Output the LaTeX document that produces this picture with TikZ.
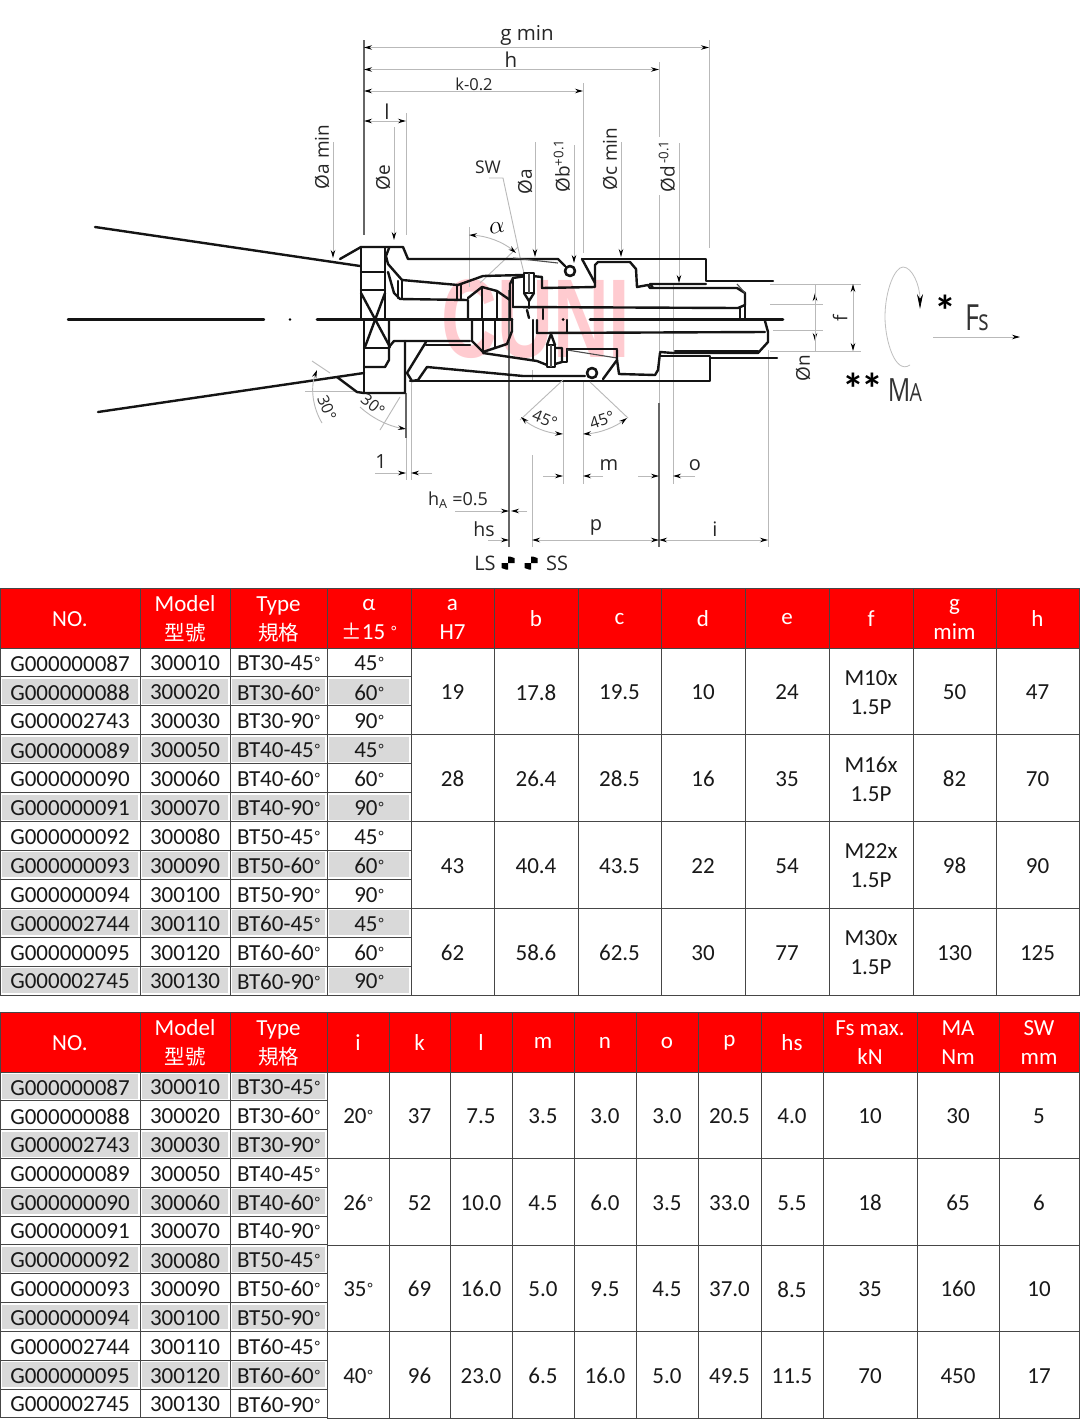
\documentclass[tikz,border=0pt]{standalone}
\usepackage{fontspec}
\setmainfont{Carlito}
\newfontfamily\cjk{Noto Sans CJK TC}
\newfontfamily\dimfont{Open Sans}
\newfontfamily\brandfont{Liberation Sans}
\usetikzlibrary{arrows.meta}
\definecolor{headred}{RGB}{255,0,0}
\definecolor{cellgrey}{RGB}{217,217,217}
\definecolor{cellline}{RGB}{70,70,70}
\definecolor{dimgrey}{RGB}{185,185,185}
\definecolor{brandpink}{RGB}{255,203,208}
\tikzset{
    part/.style={line width=2.4pt,line join=round,line cap=round,black!92},
    thinpart/.style={line width=1.1pt,black!70},
    dimtip/.tip={Stealth[length=8pt,width=4.5pt,black]},
    dimline/.style={line width=0.9pt,dimgrey},
    extdark/.style={line width=1.3pt,black!60},
    dimlabel/.style={font=\dimfont\fontsize{19}{20}\selectfont,inner sep=0pt,black!85},
    celltext/.style={font=\fontsize{23}{29}\selectfont,align=center,inner sep=0pt,black!90},
    headtext/.style={font=\fontsize{23}{29}\selectfont,align=center,inner sep=0pt,white},
    cellbox/.style={draw=cellline,line width=1pt}
}
\newcommand{\dg}{\kern1pt\raisebox{3pt}{\fontsize{15}{15}\selectfont°}}
\newcommand{\tabcell}[7]{
    \draw[cellbox,fill=white] (#2,#3) rectangle (#4,#5);
    \fill[#6] ({#2+2},{#3+2}) rectangle ({#4-2},{#5-2});
    \node[celltext] (#1) at ({(#2+#4)/2},{(#3+#5)/2+1}) {#7};
}
\newcommand{\headcell}[6]{
    \draw[cellbox,fill=headred] (#2,#3) rectangle (#4,#5);
    \node[headtext] (#1) at ({(#2+#4)/2},{(#3+#5)/2+1}) {#6};
}
\begin{document}
\begin{tikzpicture}[x=1pt,y=-1pt]
    \useasboundingbox (0,0) rectangle (1080,1419);
    \fill[white] (0,0) rectangle (1080,1419);

    % watermark
    \node[inner sep=0pt,text=brandpink,xscale=0.69,font=\brandfont\bfseries\fontsize{112}{112}\selectfont] (brand) at (536,319) {CUNI};

    % extension lines
    \draw[extdark] (364,40) -- (364,235);
    \draw[dimline] (709,40) -- (709,248);
    \draw[dimline] (659,62) -- (659,137);
    \draw[dimline] (659,195) -- (659,403);
    \draw[extdark] (659,403) -- (659,547);
    \draw[dimline] (583,83) -- (583,253);
    \draw[dimline] (406,113) -- (406,235);
    \draw[dimline] (469,227) -- (469,287);
    \draw[extdark] (509,290) -- (509,547);
    \draw[dimline] (532,370) -- (532,380);
    \draw[dimline] (532,455) -- (532,547);
    \draw[dimline] (563,380) -- (563,484);
    \draw[dimline] (583,380) -- (583,484);
    \draw[dimline] (673,283) -- (673,484);
    \draw[dimline] (768,350) -- (768,547);
    \draw[extdark] (406,393) -- (406,438);
    \draw[dimline] (406,438) -- (406,480);
    \draw[dimline] (411,380) -- (411,480);
    \draw[dimline] (770,284) -- (861,284);
    \draw[dimline] (770,351) -- (861,351);
    \draw[dimline] (770,304) -- (823,304);
    \draw[dimline] (773,330) -- (823,330);
    \draw[dimline] (305,391) -- (357,391);

    % top dimensions
    \draw[dimline,dimtip-dimtip] (364,47.5) -- (709,47.5);
    \draw[dimline,dimtip-dimtip] (364,69.5) -- (659,69.5);
    \draw[dimline,dimtip-dimtip] (364,91) -- (583,91);
    \draw[dimline,dimtip-dimtip] (364,121) -- (406,121);
    \foreach \xpos/\ya/\yb in {333/142/258,394/127/240,535/142/257,574/145/263,621/142/257,679/143/283}{
        \draw[dimline,-dimtip] (\xpos,\ya) -- (\xpos,\yb);
    }
    \node[dimlabel,font=\dimfont\fontsize{20.5}{20}\selectfont] (gmin) at (527,35) {g min};
    \node[dimlabel,font=\dimfont\fontsize{20.5}{20}\selectfont] (hlab) at (511,60) {h};
    \node[dimlabel,font=\dimfont\fontsize{16.5}{20}\selectfont] (klab) at (474,84) {k-0.2};
    \node[dimlabel,font=\dimfont\fontsize{20.5}{20}\selectfont] (llab) at (387,112) {l};
    \node[dimlabel,rotate=90] (oamin) at (322,157) {Øa min};
    \node[dimlabel,rotate=90] (oe) at (383,178) {Øe};
    \node[dimlabel,rotate=90] (oa) at (525,182) {Øa};
    \node[dimlabel,rotate=90] (ob) at (562,166) {Øb\textsuperscript{+0.1}};
    \node[dimlabel,rotate=90] (ocmin) at (610,159) {Øc min};
    \node[dimlabel,rotate=90] (od) at (667,166) {Ød\textsuperscript{\,-0.1}};
    \node[dimlabel,font=\dimfont\fontsize{17.5}{20}\selectfont] (sw) at (488,167) {SW};
    \node[inner sep=0pt,rotate=10,font=\fontsize{30}{30}\selectfont] (alphalab) at (497,228) {$\alpha$};
    \draw[dimline] (489,178) -- (503,178) -- (520,257) -- (525,277);
    \draw[dimline] (518,247) -- (480,283);
    \draw[dimline,dimtip-dimtip] (469,235) .. controls (487,236) and (503,242) .. (516,253);

    % tool body, upper half
    \draw[part] (95,227) -- (360,266);
    \draw[part] (340,259) -- (361,247) -- (403,247) -- (408,259) -- (558,259) -- (565,266);
    \draw[thinpart] (513,258) -- (558,263);
    \draw[part] (361,247) -- (361,319.5);
    \draw[part] (385,248) -- (385,319.5);
    \draw[part] (361,272) -- (385,272);
    \draw[part] (361,290) -- (385,290);
    \draw[part] (361,293) -- (390,347);
    \draw[part] (385,293) -- (365,347);
    \draw[part] (389,248) -- (386,256) -- (388,264) -- (402,280) -- (458,285);
    \draw[part] (388,272) -- (394,293) -- (400,299) -- (468,300) -- (468,319);
    \draw[part] (398,281) -- (398,298);
    \draw[part] (402,281) -- (402,298);
    \draw[part] (458,285) -- (483,276) -- (523,275);
    \draw[part] (457,285) -- (457,299);
    \draw[part] (461,284) -- (461,299);
    \draw[part] (468,298) -- (482,287) -- (497,291) -- (510,300);
    \draw[part] (482,287) -- (482,319);
    \draw[part] (497,291) -- (497,319);
    \draw[part] (526,276) -- (513,278) -- (510,284) -- (510,319);
    \draw[part] (513,278) -- (513,307);
    \draw[part] (532,276) -- (542,277) -- (542,288) -- (595,287) -- (595,265) -- (598,262) -- (630,262) -- (636,269) -- (637,287) -- (648,285) -- (650,288) -- (737,288) -- (745,293) -- (745,305) -- (738,308) -- (513,307);
    \draw[part] (582,259) -- (706,259) -- (706,281) -- (773,281);
    \draw[part] (582,259) -- (595,283);
    \draw[part] (706,284) -- (650,284) -- (653,288);
    \draw[thinpart] (737,284) -- (745,293);
    \draw[part] (740,308) -- (740,319.5);
    \draw[part] (745,305) -- (745,319.5);
    % small bolt, upper
    \draw[part,fill=white] (524,273) rectangle (534,293);
    \draw[thinpart] (529,273) -- (529,293);
    \draw[part] (524,293) -- (529,301) -- (534,293);
    \draw[part] (529,301) -- (529,308);
    % o-rings
    \draw[part,line width=2.6pt,fill=white] (570,271) circle (5);
    \draw[part,line width=2.6pt,fill=white] (592,373) circle (5);

    % tool body, centre
    \draw[part] (68,319.5) -- (264,319.5);
    \fill (290,319.5) circle (1.4);
    \draw[part,line width=2.6pt] (317,319.5) -- (512,319.5);
    \draw[part,line width=2.6pt] (590,319.5) -- (783,319.5);
    \draw[part] (527,310) -- (529,318);
    \draw[part] (543,309) -- (543,319);
    \fill (563,319.5) circle (1.5);
    \draw[part] (567,320) -- (567,332);
    \draw[part] (533,320) -- (533,360);
    \draw[part] (537,320) -- (537,333) -- (765,332);
    \draw[part] (765,321) -- (768,332) -- (768,342) -- (758,353) -- (673,353) -- (660,352);

    % tool body, lower half
    \draw[part] (98,412) -- (364,373);
    \draw[part] (337,377) -- (357,392) -- (364,393) -- (405,393) -- (405,341);
    \draw[part] (364,319.5) -- (364,393);
    \draw[part] (389,319.5) -- (389,360) -- (385,367) -- (364,367);
    \draw[part] (364,348) -- (389,348);
    \draw[part] (389,347) -- (394,341) -- (470,341);
    \draw[part] (426,345) -- (470,345);
    \draw[part] (426,342) -- (407,373) -- (412,381) -- (418,380) -- (427,367) -- (523,376) -- (585,376);
    \draw[part] (410,381) -- (710,381) -- (710,356) -- (660,356);
    \draw[part] (472,320) -- (472,341) -- (483,352) -- (507,344) -- (512,331) -- (512,319);
    \draw[part] (483,320) -- (483,352);
    \draw[part] (495,320) -- (495,347);
    \draw[part] (483,353) -- (537,361) -- (547,365);
    \draw[part] (555,348) -- (562,348) -- (562,362) -- (555,364);
    \draw[part] (567,349) -- (617,349);
    \draw[part] (562,362) -- (567,362) -- (567,349);
    \draw[thinpart] (567,350) -- (617,358);
    \draw[part] (603,379) -- (617,360) -- (617,350);
    \draw[part] (617,360) -- (619,374) -- (655,375) -- (658,370) -- (660,353);
    \draw[part] (675,351) -- (758,351);
    \draw[part] (710,358) -- (777,358);
    % small bolt, lower
    \draw[part,fill=white] (547,345) rectangle (555,367);
    \draw[thinpart] (551,345) -- (551,367);
    \draw[part] (547,345) -- (551,334) -- (555,345);

    % thin leaders under the body
    \draw[dimline] (563,380) -- (520,420);
    \draw[dimline] (590,382) -- (628,418);
    \draw[dimline] (400,397) -- (380,430);
    \draw[dimline] (312,361) -- (330,373);

    % lower dimensions
    \draw[dimline,-dimtip] (360,407) .. controls (372,418) and (388,426) .. (406,429);
    \draw[dimline,-dimtip] (322,423) .. controls (313,408) and (310,388) .. (317,370);
    \draw[dimline,dimtip-dimtip] (521,417) .. controls (532,427) and (547,433) .. (563,434);
    \draw[dimline,dimtip-dimtip] (583,434) .. controls (600,433) and (615,427) .. (627,418);
    \node[dimlabel,rotate=-38,font=\dimfont\fontsize{16}{20}\selectfont] (ang30b) at (373,405) {30°};
    \node[dimlabel,rotate=-68,font=\dimfont\fontsize{16}{20}\selectfont] (ang30a) at (327,408) {30°};
    \node[dimlabel,rotate=-22,font=\dimfont\fontsize{16}{20}\selectfont] (ang45a) at (545,419) {45°};
    \node[dimlabel,rotate=18,font=\dimfont\fontsize{16}{20}\selectfont] (ang45b) at (602,420) {45°};

    \draw[dimline,-dimtip] (375,473) -- (406,473);
    \draw[dimline,-dimtip] (432,473) -- (411,473);
    \node[dimlabel,font=\dimfont\fontsize{19.5}{20}\selectfont] (onelab) at (381,462) {1};
    \draw[dimline,-dimtip] (543,476) -- (563,476);
    \draw[dimline,-dimtip] (603,476) -- (583,476);
    \node[dimlabel,font=\dimfont\fontsize{20}{20}\selectfont] (mlab) at (609,465) {m};
    \draw[dimline,-dimtip] (638,476) -- (659,476);
    \draw[dimline,-dimtip] (695,476) -- (673,476);
    \node[dimlabel,font=\dimfont\fontsize{20}{20}\selectfont] (olab) at (695,465) {o};
    \draw[dimline,-dimtip] (455,511) -- (509,511);
    \draw[dimline,-dimtip] (527,511) -- (511,511);
    \node[dimlabel,font=\dimfont\fontsize{18}{20}\selectfont] (halab) at (458,500) {h\textsubscript{A} =0.5};
    \draw[dimline,-dimtip] (488,540) -- (509,540);
    \draw[dimline,dimtip-dimtip] (532,540) -- (659,540);
    \draw[dimline,dimtip-dimtip] (659,540) -- (768,540);
    \node[dimlabel,font=\dimfont\fontsize{19.5}{20}\selectfont] (hslab) at (484,529) {hs};
    \node[dimlabel,font=\dimfont\fontsize{20}{20}\selectfont] (plab) at (596,527) {p};
    \node[dimlabel,font=\dimfont\fontsize{20}{20}\selectfont] (ilab) at (715,529) {i};
    \node[dimlabel,font=\dimfont\fontsize{20}{20}\selectfont] (lslab) at (485,563) {LS};
    \node[dimlabel,font=\dimfont\fontsize{20}{20}\selectfont] (sslab) at (557,563) {SS};
    \foreach \xpos in {508,531}{
        \fill (\xpos,563) -- (\xpos+6.5,563) -- (\xpos+6.5,558) -- (\xpos+2,556.5) -- (\xpos,556.5) -- cycle;
        \fill (\xpos,563) -- (\xpos-6.5,563) -- (\xpos-6.5,568) -- (\xpos-2,569.5) -- (\xpos,569.5) -- cycle;
    }

    % thread dimensions on the right
    \draw[dimline,dimtip-dimtip] (853,284) -- (853,351);
    \draw[dimline,-dimtip] (815,304) -- (815,293);
    \draw[dimline,-dimtip] (815,330) -- (815,341);
    \draw[dimline] (815,284) -- (815,351);
    \node[dimlabel,rotate=90] (flab) at (840,318) {f};
    \node[dimlabel,rotate=90] (onlab) at (803,368) {Øn};

    % load and torque
    \draw[dimline,-dimtip] (933,337) -- (1020,337);
    \draw[line width=0.8pt,black!25,-{Stealth[length=15pt,width=6pt,black]}] (910,365) .. controls (895,375) and (885,340) .. (885,317) .. controls (885,290) and (895,267) .. (903,267) .. controls (912,267) and (920,285) .. (920,309);
    \node[inner sep=0pt,font=\bfseries\fontsize{44}{44}\selectfont] (star) at (945,311) {*};
    \node[inner sep=0pt,xscale=0.75,font=\dimfont\fontsize{36}{36}\selectfont,black!80] (fslab) at (977,318) {F\kern-1pt\fontsize{29}{29}\selectfont s};
    \node[inner sep=0pt,font=\bfseries\fontsize{44}{44}\selectfont] (stars) at (863,389) {*\kern-3pt*};
    \node[inner sep=0pt,xscale=0.78,font=\dimfont\fontsize{32}{32}\selectfont,black!80] (malab) at (905,390) {M\kern-1pt\fontsize{25}{25}\selectfont A};

    % first table
    \headcell{ha1}{0}{588}{140}{648}{NO.}
    \headcell{ha2}{140}{588}{230}{648}{Model\\{\cjk\fontsize{20.5}{29}\selectfont 型號}}
    \headcell{ha3}{230}{588}{327}{648}{Type\\{\cjk\fontsize{20.5}{29}\selectfont 規格}}
    \headcell{ha4}{327}{588}{411}{648}{α\\{\cjk\fontsize{20.5}{29}\selectfont ±}15 \dg}
    \headcell{ha5}{411}{588}{494}{648}{a\\H7}
    \foreach \xa/\xb/\val [count=\c from 6] in {494/578/b,578/661/c,661/745/d,745/829/e,829/913/f,913/996/{g\\mim},996/1079/h}{
        \headcell{ha\c}{\xa}{588}{\xb}{648}{\val}
    }
    \foreach \no/\mdl/\typ/\ang/\bg [count=\r from 0] in {
        G000000087/300010/BT30-45\dg/45\dg/white,
        G000000088/300020/BT30-60\dg/60\dg/cellgrey,
        G000002743/300030/BT30-90\dg/90\dg/white,
        G000000089/300050/BT40-45\dg/45\dg/cellgrey,
        G000000090/300060/BT40-60\dg/60\dg/white,
        G000000091/300070/BT40-90\dg/90\dg/cellgrey,
        G000000092/300080/BT50-45\dg/45\dg/white,
        G000000093/300090/BT50-60\dg/60\dg/cellgrey,
        G000000094/300100/BT50-90\dg/90\dg/white,
        G000002744/300110/BT60-45\dg/45\dg/cellgrey,
        G000000095/300120/BT60-60\dg/60\dg/white,
        G000002745/300130/BT60-90\dg/90\dg/cellgrey}{
        \pgfmathsetmacro{\ya}{648+\r*28.92}
        \pgfmathsetmacro{\yb}{\ya+28.92}
        \tabcell{a\r-1}{0}{\ya}{140}{\yb}{\bg}{\no}
        \tabcell{a\r-2}{140}{\ya}{230}{\yb}{\bg}{\mdl}
        \tabcell{a\r-3}{230}{\ya}{327}{\yb}{\bg}{\typ}
        \tabcell{a\r-4}{327}{\ya}{411}{\yb}{\bg}{\ang}
    }
    \foreach \va/\vb/\vc/\vd/\ve/\fa/\fb/\vg/\vh [count=\r from 0] in {
        19/17.8/19.5/10/24/M10x/1.5P/50/47,
        28/26.4/28.5/16/35/M16x/1.5P/82/70,
        43/40.4/43.5/22/54/M22x/1.5P/98/90,
        62/58.6/62.5/30/77/M30x/1.5P/130/125}{
        \pgfmathsetmacro{\ya}{648+\r*86.76}
        \pgfmathsetmacro{\yb}{\ya+86.76}
        \foreach \xa/\xb/\val [count=\c from 5] in {411/494/\va,494/578/\vb,578/661/\vc,661/745/\vd,745/829/\ve,829/913/{\fa\\\fb},913/996/\vg,996/1079/\vh}{
            \tabcell{a\r-\c}{\xa}{\ya}{\xb}{\yb}{white}{\val}
        }
    }

    % second table
    \headcell{hb1}{0}{1012}{140}{1072}{NO.}
    \headcell{hb2}{140}{1012}{230}{1072}{Model\\{\cjk\fontsize{20.5}{29}\selectfont 型號}}
    \headcell{hb3}{230}{1012}{327}{1072}{Type\\{\cjk\fontsize{20.5}{29}\selectfont 規格}}
    \foreach \xa/\xb/\val [count=\c from 4] in {327/389/i,389/450/k,450/512/l,512/574/m,574/636/n,636/698/o,698/761/p,761/823/hs,823/917/{Fs max.\\kN},917/999/{MA\\Nm},999/1079/{SW\\mm}}{
        \headcell{hb\c}{\xa}{1012}{\xb}{1072}{\val}
    }
    \foreach \no/\mdl/\typ/\bg [count=\r from 0] in {
        G000000087/300010/BT30-45\dg/cellgrey,
        G000000088/300020/BT30-60\dg/white,
        G000002743/300030/BT30-90\dg/cellgrey,
        G000000089/300050/BT40-45\dg/white,
        G000000090/300060/BT40-60\dg/cellgrey,
        G000000091/300070/BT40-90\dg/white,
        G000000092/300080/BT50-45\dg/cellgrey,
        G000000093/300090/BT50-60\dg/white,
        G000000094/300100/BT50-90\dg/cellgrey,
        G000002744/300110/BT60-45\dg/white,
        G000000095/300120/BT60-60\dg/cellgrey,
        G000002745/300130/BT60-90\dg/white}{
        \pgfmathsetmacro{\ya}{1072+\r*28.83}
        \pgfmathsetmacro{\yb}{\ya+28.83}
        \tabcell{b\r-1}{0}{\ya}{140}{\yb}{\bg}{\no}
        \tabcell{b\r-2}{140}{\ya}{230}{\yb}{\bg}{\mdl}
        \tabcell{b\r-3}{230}{\ya}{327}{\yb}{\bg}{\typ}
    }
    \foreach \vi/\vk/\vl/\vm/\vn/\vo/\vp/\vhs/\vfs/\vma/\vsw [count=\r from 0] in {
        20\dg/37/7.5/3.5/3.0/3.0/20.5/4.0/10/30/5,
        26\dg/52/10.0/4.5/6.0/3.5/33.0/5.5/18/65/6,
        35\dg/69/16.0/5.0/9.5/4.5/37.0/8.5/35/160/10,
        40\dg/96/23.0/6.5/16.0/5.0/49.5/11.5/70/450/17}{
        \pgfmathsetmacro{\ya}{1072+\r*86.5}
        \pgfmathsetmacro{\yb}{\ya+86.5}
        \foreach \xa/\xb/\val [count=\c from 4] in {327/389/\vi,389/450/\vk,450/512/\vl,512/574/\vm,574/636/\vn,636/698/\vo,698/761/\vp,761/823/\vhs,823/917/\vfs,917/999/\vma,999/1079/\vsw}{
            \tabcell{b\r-\c}{\xa}{\ya}{\xb}{\yb}{white}{\val}
        }
    }
\end{tikzpicture}
\end{document}
